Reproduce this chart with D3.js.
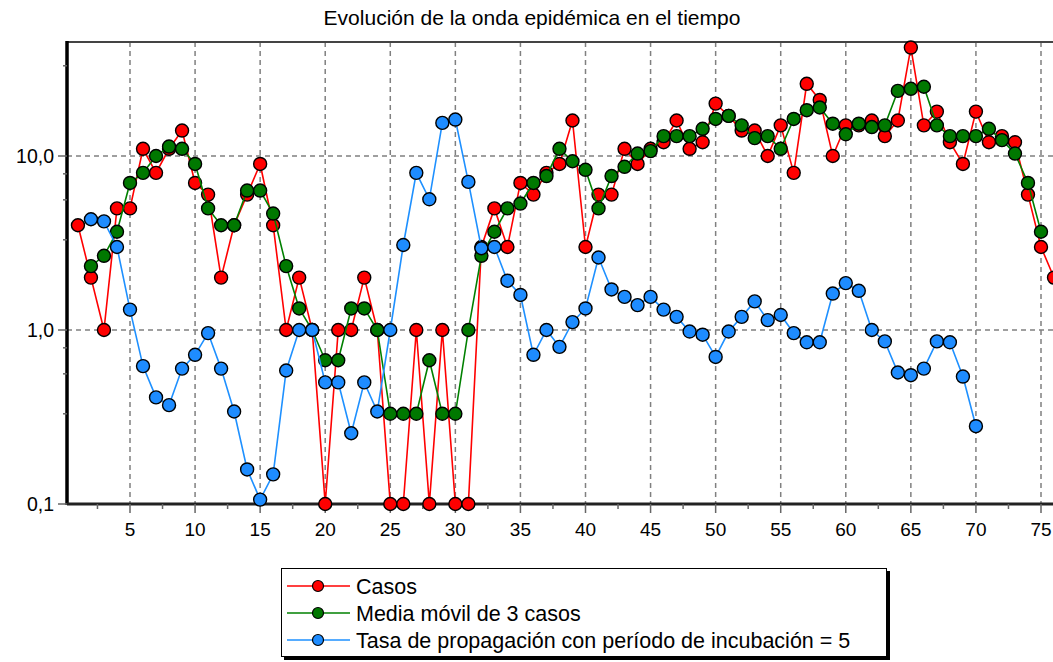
<!DOCTYPE html>
<meta charset="utf-8">
<style>
body { margin: 0; background: #fff; }
text { font-family: "Liberation Sans", Arial, sans-serif; fill: #000; }
.grid line { stroke: #808080; stroke-width: 1.5px; stroke-dasharray: 5,4; }
</style>
<svg width="1053" height="662"></svg>
<script src="https://d3js.org/d3.v7.min.js"></script>
<script>

// casos por dia, from day 1 (0 is drawn on the axis floor 0,1)
var casos = [4, 2, 1, 5, 5, 11, 8, 11, 14, 7, 6, 2, 4, 6, 9, 4, 1, 2, 1, 0,
  1, 1, 2, 1, 0, 0, 1, 0, 1, 0, 0, 3, 5, 3, 7, 6, 8, 9, 16, 3,
  6, 6, 11, 9, 11, 12, 16, 11, 12, 20, 17, 14, 14, 10, 15, 8, 26, 21, 10, 15,
  15, 16, 13, 16, 42, 15, 18, 12, 9, 18, 12, 13, 12, 6, 3, 2];

// media movil de 3 casos, from day 2 to day 75
var media = [2.33, 2.67, 3.67, 7, 8, 10, 11.33, 11, 9, 5, 4, 4, 6.33, 6.33, 4.67, 2.33, 1.33, 1, 0.67,
  0.67, 1.33, 1.33, 1, 0.33, 0.33, 0.33, 0.67, 0.33, 0.33, 1, 2.67, 3.67, 5, 5.33, 7, 7.67, 11, 9.33, 8.33,
  5, 7.67, 8.67, 10.33, 10.67, 13, 13, 13, 14.33, 16.33, 17, 15, 12.67, 13, 11, 16.33, 18.33, 19, 15.33, 13.33,
  15.33, 14.67, 15, 23.67, 24.33, 25, 15, 13, 13, 13, 14.33, 12.33, 10.33, 7, 3.67];

// tasa de propagacion, from day 2 to day 70
var tasa = [4.33, 4.21, 3.0, 1.31, 0.62, 0.41, 0.37, 0.6, 0.72, 0.96, 0.6, 0.34, 0.158, 0.106, 0.148, 0.585, 1.0, 1.0, 0.5,
  0.5, 0.255, 0.5, 0.34, 1.0, 3.08, 8.0, 5.64, 15.5, 16.2, 7.1, 2.95, 3.0, 1.92, 1.59, 0.72, 1.0, 0.8, 1.11, 1.33,
  2.61, 1.71, 1.55, 1.39, 1.55, 1.31, 1.19, 0.98, 0.94, 0.7, 0.98, 1.19, 1.46, 1.14, 1.22, 0.96, 0.85, 0.85, 1.62, 1.86,
  1.68, 1.0, 0.86, 0.57, 0.55, 0.6, 0.86, 0.85, 0.54, 0.28];

var xTicks = d3.range(5, 80, 5);
var xMinor = d3.range(2.5, 80, 5);
var yTicks = [0.1, 1, 10];
var yMinor = [0.33, 0.56, 0.79, 3.3, 5.6, 7.9, 33];

var svg = d3.select("svg");

var x = d3.scaleLinear().domain([5, 75]).range([130, 1041]);
var y = d3.scaleLog().domain([0.1, 10]).range([504, 156]);

var plotLeft = x(0.16), plotRight = x(78), plotTop = y(45.2), plotBottom = y(0.1);

var es = d3.formatLocale({decimal: ",", thousands: ".", grouping: [3], currency: ["", " €"]});
var fmt = es.format(".1f");

// title
svg.append("text")
    .attr("x", 532).attr("y", 25)
    .attr("text-anchor", "middle")
    .style("font-size", "21px")
    .text("Evolución de la onda epidémica en el tiempo");

// grid
var grid = svg.append("g").attr("class", "grid");
grid.selectAll("line.v")
  .data(xTicks)
  .enter().append("line")
    .attr("class", "v")
    .attr("x1", function(d) { return x(d); })
    .attr("x2", function(d) { return x(d); })
    .attr("y1", plotTop).attr("y2", plotBottom);
grid.selectAll("line.h")
  .data([1, 10])
  .enter().append("line")
    .attr("class", "h")
    .attr("x1", plotLeft).attr("x2", plotRight)
    .attr("y1", function(d) { return y(d); })
    .attr("y2", function(d) { return y(d); });

// frame
svg.append("line").attr("x1", plotLeft).attr("x2", plotRight).attr("y1", plotTop).attr("y2", plotTop)
    .attr("stroke", "#444").attr("stroke-width", 2);
svg.append("line").attr("x1", plotLeft).attr("x2", plotLeft).attr("y1", plotTop - 1).attr("y2", plotBottom + 1)
    .attr("stroke", "#000").attr("stroke-width", 3.5);
svg.append("line").attr("x1", plotLeft).attr("x2", plotRight).attr("y1", plotBottom).attr("y2", plotBottom)
    .attr("stroke", "#222").attr("stroke-width", 3);

// x ticks
svg.selectAll("line.xt")
  .data(xTicks)
  .enter().append("line")
    .attr("x1", function(d) { return x(d); })
    .attr("x2", function(d) { return x(d); })
    .attr("y1", plotBottom).attr("y2", plotBottom + 9)
    .attr("stroke", "#666").attr("stroke-width", 1.5);
svg.selectAll("line.xm")
  .data(xMinor)
  .enter().append("line")
    .attr("x1", function(d) { return x(d); })
    .attr("x2", function(d) { return x(d); })
    .attr("y1", plotBottom).attr("y2", plotBottom + 5)
    .attr("stroke", "#666").attr("stroke-width", 1.5);
svg.selectAll("text.xl")
  .data(xTicks)
  .enter().append("text")
    .attr("x", function(d) { return x(d); })
    .attr("y", 536)
    .attr("text-anchor", "middle")
    .style("font-size", "19px")
    .text(function(d) { return d; });

// y ticks
svg.selectAll("line.yt")
  .data(yTicks)
  .enter().append("line")
    .attr("x1", plotLeft - 9).attr("x2", plotLeft)
    .attr("y1", function(d) { return y(d); })
    .attr("y2", function(d) { return y(d); })
    .attr("stroke", "#666").attr("stroke-width", 1.5);
svg.selectAll("line.ym")
  .data(yMinor)
  .enter().append("line")
    .attr("x1", plotLeft - 4).attr("x2", plotLeft)
    .attr("y1", function(d) { return y(d); })
    .attr("y2", function(d) { return y(d); })
    .attr("stroke", "#666").attr("stroke-width", 1.5);
svg.selectAll("text.yl")
  .data(yTicks)
  .enter().append("text")
    .attr("x", 54)
    .attr("y", function(d) { return y(d) + 7; })
    .attr("text-anchor", "end")
    .style("font-size", "19.5px")
    .text(function(d) { return fmt(d); });

var series = [
  {name: "Casos", line: "#ff0000", fill: "#ff0000", start: 1, values: casos},
  {name: "Media móvil de 3 casos", line: "#008000", fill: "#007800", start: 2, values: media},
  {name: "Tasa de propagación con período de incubación = 5", line: "#1e90ff", fill: "#1e8cff", start: 2, values: tasa}
];

var line = d3.line()
    .x(function(d) { return x(d.t); })
    .y(function(d) { return y(Math.max(d.v, 0.1)); });

series.forEach(function(s) {
  var pts = s.values.map(function(v, i) { return {t: s.start + i, v: v}; });
  svg.append("path")
      .datum(pts)
      .attr("d", line)
      .attr("fill", "none")
      .attr("stroke", s.line)
      .attr("stroke-width", 1.6);
  svg.append("g").selectAll("circle")
    .data(pts)
    .enter().append("circle")
      .attr("cx", function(d) { return x(d.t); })
      .attr("cy", function(d) { return y(Math.max(d.v, 0.1)); })
      .attr("r", 6.5)
      .attr("fill", s.fill)
      .attr("stroke", "#000")
      .attr("stroke-width", 1.4);
});

// legend
var lg = svg.append("g");
lg.append("rect").attr("x", 284).attr("y", 571).attr("width", 606).attr("height", 89).attr("fill", "#000");
lg.append("rect").attr("x", 281.5).attr("y", 568.5).attr("width", 605).attr("height", 88)
    .attr("fill", "#fff").attr("stroke", "#000").attr("stroke-width", 1);

series.forEach(function(s, i) {
  var cy = 586 + i * 27;
  lg.append("line").attr("x1", 287).attr("x2", 350).attr("y1", cy).attr("y2", cy)
      .attr("stroke", s.line).attr("stroke-width", 1.6);
  lg.append("circle").attr("cx", 318).attr("cy", cy).attr("r", 5.5)
      .attr("fill", s.fill).attr("stroke", "#000").attr("stroke-width", 1.2);
  lg.append("text").attr("x", 356).attr("y", cy + 8)
      .style("font-size", "21.5px")
      .text(s.name);
});

</script>
